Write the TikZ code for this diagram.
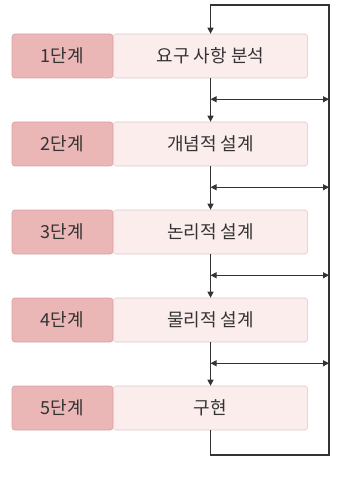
\documentclass[tikz,border=0pt]{standalone}
\usepackage{fontspec}
\setmainfont{Noto Sans CJK KR}
\usetikzlibrary{arrows.meta, positioning, calc}
\definecolor{stagefill}{HTML}{EBB6B6}
\definecolor{stageline}{HTML}{D8A2A2}
\definecolor{taskfill}{HTML}{FCEDED}
\definecolor{taskline}{HTML}{DDC8C8}
\definecolor{linecol}{HTML}{333333}
\begin{document}
\begin{tikzpicture}[x=0.75pt, y=-0.75pt, >={Triangle[length=4.5pt,width=4.5pt]},
  stage/.style={draw=stageline, fill=stagefill, rounded corners=2pt, minimum width=75.75pt, minimum height=33pt, inner sep=0pt, text=linecol, font=\fontsize{13.5}{15}\selectfont},
  task/.style={draw=taskline, fill=taskfill, rounded corners=2pt, minimum width=145.5pt, minimum height=33pt, inner sep=0pt, text=linecol, font=\fontsize{13.5}{15}\selectfont},
  flow/.style={draw=linecol, line width=0.8pt}]
\useasboundingbox (0,0) rectangle (345,477);
% 단계
\node[stage] (s1) at (62.5,56) {1단계};
\node[stage] (s2) at (62.5,144) {2단계};
\node[stage] (s3) at (62.5,232) {3단계};
\node[stage] (s4) at (62.5,320) {4단계};
\node[stage] (s5) at (62.5,408) {5단계};
% 작업
\node[task, right=0pt of s1] (t1) {요구 사항 분석};
\node[task, right=0pt of s2] (t2) {개념적 설계};
\node[task, right=0pt of s3] (t3) {논리적 설계};
\node[task, right=0pt of s4] (t4) {물리적 설계};
\node[task, right=0pt of s5] (t5) {구현};
% 되돌림 선
\coordinate (rt) at (329,5);
\coordinate (rb) at (329,455);
\draw[flow, ->] (t5.south) |- (rb) -- (rt) -| (t1.north);
% 다음 단계
\draw[flow, ->] (t1) -- (t2);
\draw[flow, ->] (t2) -- (t3);
\draw[flow, ->] (t3) -- (t4);
\draw[flow, ->] (t4) -- (t5);
% 양방향
\coordinate (h1) at ($(t1.south)+(0,21)$);
\coordinate (h2) at ($(t2.south)+(0,21)$);
\coordinate (h3) at ($(t3.south)+(0,21)$);
\coordinate (h4) at ($(t4.south)+(0,21)$);
\draw[flow, <->] (h1) -- (h1 -| rt);
\draw[flow, <->] (h2) -- (h2 -| rt);
\draw[flow, <->] (h3) -- (h3 -| rt);
\draw[flow, <->] (h4) -- (h4 -| rt);
\end{tikzpicture}
\end{document}
